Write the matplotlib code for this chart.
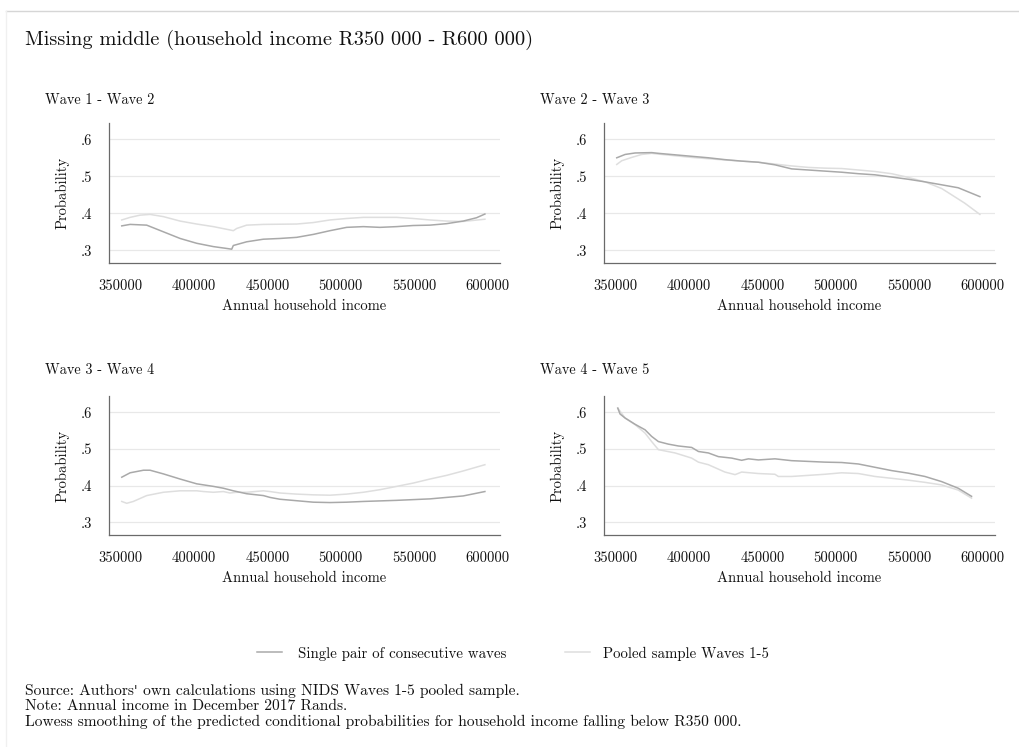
import matplotlib
matplotlib.use("Agg")
import matplotlib.pyplot as plt
from matplotlib.lines import Line2D
from matplotlib.transforms import offset_copy

plt.rcParams['font.family'] = ['cmr10', 'DejaVu Serif']
plt.rcParams['axes.formatter.use_mathtext'] = True
plt.rcParams['mathtext.fontset'] = 'cm'

# ---------------- data ----------------
panel_titles = ["Wave 1 - Wave 2", "Wave 2 - Wave 3", "Wave 3 - Wave 4", "Wave 4 - Wave 5"]
x_ticks = [350000, 400000, 450000, 500000, 550000, 600000]
y_ticks = [0.3, 0.4, 0.5, 0.6]
y_tick_labels = [".3", ".4", ".5", ".6"]

# Wave 1 - Wave 2
w12_single_x = [350700, 356400, 367700, 379100, 390500, 401800, 413200, 422300, 425700, 426800,
                435900, 447300, 458600, 470000, 481400, 492700, 504100, 515500, 526800, 538200,
                549500, 560900, 572300, 583600, 592700, 598400]
w12_single_y = [.366, .370, .368, .350, .332, .319, .310, .305, .303, .313,
                .323, .330, .332, .335, .343, .353, .362, .364, .362, .364,
                .367, .368, .372, .379, .388, .398]
w12_pooled_x = [350700, 356400, 363200, 370000, 379100, 390500, 401800, 413200, 424500, 426800,
                429100, 435900, 447300, 470000, 481400, 492700, 504100, 515500, 538200, 549500,
                560900, 572300, 583600, 598400]
w12_pooled_y = [.382, .389, .395, .397, .391, .379, .371, .364, .355, .353,
                .359, .368, .370, .371, .375, .382, .386, .389, .389, .386,
                .382, .379, .378, .384]

# Wave 2 - Wave 3
w23_single_x = [350700, 356400, 363200, 374500, 379100, 390500, 401800, 413200, 424500, 435900,
                447300, 458600, 470000, 481400, 492700, 504100, 515500, 526800, 538200, 549500,
                560900, 572300, 583600, 598400]
w23_single_y = [.550, .559, .563, .564, .562, .558, .554, .550, .545, .541,
                .538, .531, .520, .517, .514, .511, .507, .504, .498, .492,
                .485, .477, .469, .445]
w23_pooled_x = [350700, 354100, 360900, 367700, 374500, 379100, 401800, 424500, 447300, 458600,
                470000, 481400, 492700, 504100, 515500, 526800, 538200, 549500, 560900, 572300,
                579100, 588200, 598400]
w23_pooled_y = [.532, .542, .551, .559, .562, .560, .551, .544, .538, .533,
                .528, .524, .522, .521, .517, .513, .507, .497, .485, .467,
                .450, .427, .397]

# Wave 3 - Wave 4
w34_single_x = [350700, 356400, 365500, 370000, 379100, 390500, 401800, 413200, 420000, 426800,
                435900, 447300, 451800, 458600, 470000, 481400, 492700, 504100, 515500, 538200,
                560900, 583600, 598400]
w34_single_y = [.423, .435, .442, .442, .432, .418, .405, .398, .393, .386,
                .378, .373, .368, .363, .359, .355, .354, .355, .357, .360,
                .364, .372, .384]
w34_pooled_x = [350700, 354100, 358600, 367700, 379100, 390500, 401800, 406400, 413200, 420000,
                424500, 429100, 435900, 447300, 451800, 458600, 470000, 481400, 492700, 504100,
                515500, 526800, 538200, 549500, 560900, 572300, 583600, 598400]
w34_pooled_y = [.357, .352, .357, .373, .382, .386, .386, .384, .382, .384,
                .380, .382, .382, .386, .384, .380, .377, .375, .374, .377,
                .382, .389, .398, .407, .418, .428, .440, .457]

# Wave 4 - Wave 5
w45_single_x = [351400, 352950, 356400, 363200, 370000, 374500, 379100, 385900, 392700, 401800,
                406400, 413200, 420000, 429100, 435900, 440500, 447300, 458600, 470000, 481400,
                492700, 504100, 515500, 526800, 538200, 549500, 560900, 572300, 583600, 592700]
w45_single_y = [.611, .595, .584, .567, .552, .534, .520, .513, .508, .504,
                .493, .489, .479, .475, .469, .473, .470, .473, .468, .466,
                .464, .463, .459, .450, .441, .434, .425, .411, .393, .371]
w45_pooled_x = [351400, 356400, 363200, 370000, 374500, 379100, 390500, 401800, 406400, 413200,
                424500, 431400, 435900, 447300, 458600, 460900, 470000, 481400, 492700, 504100,
                515500, 526800, 538200, 549500, 560900, 572300, 583600, 592700]
w45_pooled_y = [.611, .584, .566, .543, .520, .498, .489, .475, .464, .457,
                .437, .430, .437, .433, .431, .425, .425, .428, .431, .435,
                .433, .425, .420, .415, .409, .402, .388, .366]

single_series = [(w12_single_x, w12_single_y), (w23_single_x, w23_single_y),
                 (w34_single_x, w34_single_y), (w45_single_x, w45_single_y)]
pooled_series = [(w12_pooled_x, w12_pooled_y), (w23_pooled_x, w23_pooled_y),
                 (w34_pooled_x, w34_pooled_y), (w45_pooled_x, w45_pooled_y)]

legend_labels = ["Single pair of consecutive waves", "Pooled sample Waves 1-5"]
title = "Missing middle (household income R350 000 - R600 000)"
notes = ["Source: Authors' own calculations using NIDS Waves 1-5 pooled sample.",
         "Note: Annual income in December 2017 Rands.",
         "Lowess smoothing of the predicted conditional probabilities for household income falling below R350 000."]

# ---------------- style ----------------
W, H = 1019, 747
c_single = "#a9a9a9"
c_pooled = "#dedede"
c_grid = "#e8e8e8"
c_spine = "#6a6a6a"
c_text = "#111111"

fig = plt.figure(figsize=(W / 100, H / 100), dpi=100)
fig.patch.set_facecolor("white")

def fx(px):
    return px / W

def fy(py):
    return 1 - py / H

# frame lines
fig.add_artist(Line2D([fx(6), 1.0], [fy(11), fy(11)], color="#d6d6d6", lw=1.0))
fig.add_artist(Line2D([fx(6), fx(6)], [fy(11), 0.0], color="#f0f0f0", lw=1.0))

fig.text(fx(25), fy(40), title, fontsize=14.7, color=c_text, va="center", ha="left")

# panel geometry in pixels: (left, top, right, bottom)
panels = [(109, 123, 500, 263), (604, 123, 995, 263),
          (109, 396, 500, 535), (604, 396, 995, 535)]
title_y = [100, 100, 370, 370]

for i, (l, t, r, b) in enumerate(panels):
    ax = fig.add_axes([fx(l), fy(b), fx(r) - fx(l), (b - t) / H])
    ax.set_xlim(342000, 608700)
    ax.set_ylim(0.2657, 0.644)
    for yv in y_ticks:
        ax.axhline(yv, color=c_grid, lw=0.9, zorder=0)
    sx, sy = single_series[i]
    px_, py_ = pooled_series[i]
    ax.plot(px_, py_, color=c_pooled, lw=1.1, zorder=2)
    ax.plot(sx, sy, color=c_single, lw=1.1, zorder=3)
    ax.set_xticks(x_ticks)
    ax.set_xticklabels([str(v) for v in x_ticks])
    ax.set_yticks(y_ticks)
    ax.set_yticklabels(y_tick_labels)
    ax.tick_params(axis="both", length=0, labelsize=10.5, colors=c_text)
    ax.tick_params(axis="x", pad=12)
    ax.tick_params(axis="y", pad=12)
    for s in ["top", "right"]:
        ax.spines[s].set_visible(False)
    for s in ["left", "bottom"]:
        ax.spines[s].set_color(c_spine)
        ax.spines[s].set_linewidth(0.9)
    ax.set_xlabel("Annual household income", fontsize=10.5, color=c_text, labelpad=4)
    ax.set_ylabel("Probability", fontsize=10.5, color=c_text, labelpad=8)
    fig.text(fx(l - 64), fy(title_y[i]), panel_titles[i], fontsize=10.3, color=c_text,
             va="center", ha="left")

# legend
fig.add_artist(Line2D([fx(257), fx(282)], [fy(652), fy(652)], color=c_single, lw=1.1))
fig.text(fx(298), fy(654), legend_labels[0], fontsize=10.7, color=c_text, va="center")
fig.add_artist(Line2D([fx(565), fx(590)], [fy(652), fy(652)], color=c_pooled, lw=1.1))
fig.text(fx(603), fy(654), legend_labels[1], fontsize=10.7, color=c_text, va="center")

renderer = fig.canvas.get_renderer()

def note_line(x_px, y_px, text, size):
    # cmr10 renders ' as a curly quote; draw straight apostrophes with another serif font
    parts = text.split("'")
    trans = fig.transFigure
    cur_x = fx(x_px)
    for j, part in enumerate(parts):
        if part:
            t = fig.text(cur_x, fy(y_px), part, fontsize=size, color=c_text, va="baseline",
                         transform=trans)
            bb = t.get_window_extent(renderer=renderer)
            cur_x = bb.x1 / W
        if j < len(parts) - 1:
            t = fig.text(cur_x, fy(y_px), "'", fontsize=size * 0.85, color=c_text,
                         va="baseline", family="DejaVu Serif", transform=trans)
            bb = t.get_window_extent(renderer=renderer)
            cur_x = bb.x1 / W

for k, line in enumerate(notes):
    note_line(25, 695 + 15.5 * k, line, 11.2)

fig.savefig("out.png", dpi=100, facecolor="white")
